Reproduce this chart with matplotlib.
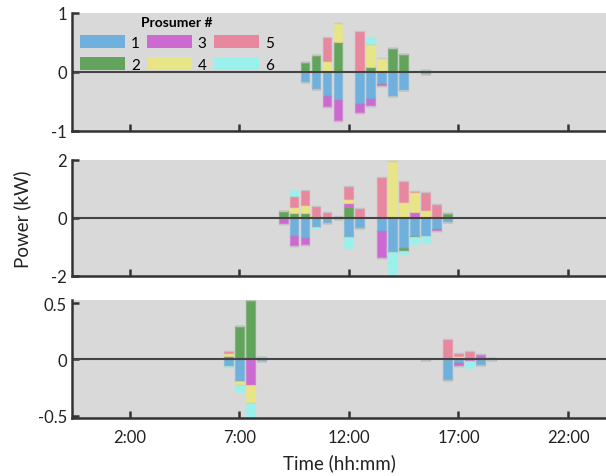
import numpy as np
import matplotlib
matplotlib.use("Agg")
import matplotlib.pyplot as plt
from matplotlib.patches import Patch

plt.rcParams['font.family'] = ['Lato', 'DejaVu Sans']

# ---------------------------------------------------------------------------
# data (kW per half-hour slot, one list per prosumer)
# ---------------------------------------------------------------------------
prosumers = ["1", "2", "3", "4", "5", "6"]
colors = ["#6fb0dc", "#62a45c", "#cc6ad2", "#e7e585", "#e8889e", "#9af1ec"]

times_a = [10.0, 10.5, 11.0, 11.5, 12.5, 13.0, 13.5, 14.0, 14.5, 15.5]
a_p1 = [-0.175, -0.29, -0.41, -0.47, -0.55, -0.45, -0.20, -0.40, -0.30, -0.03]
a_p2 = [0.175, 0.28, 0, 0.50, 0, 0.08, 0, 0.41, 0.30, 0.028]
a_p3 = [0, 0, -0.19, -0.36, -0.14, -0.135, -0.04, 0, 0, 0]
a_p4 = [0, 0, 0.18, 0.33, 0, 0.39, 0.23, 0, 0, 0]
a_p5 = [0, 0, 0.41, 0, 0.695, 0, 0, 0, 0, 0]
a_p6 = [0, 0, 0, 0, 0, 0.12, 0, 0, 0, 0]

times_b = [9.0, 9.5, 10.0, 10.5, 11.0, 11.5, 12.0, 12.5, 13.5, 14.0, 14.5, 15.0, 15.5, 16.0, 16.5]
b_p1 = [0, -0.61, -0.70, -0.32, -0.17, -0.06, -0.67, -0.34, -0.47, -1.17, -1.03, -0.64, -0.62, -0.38, -0.14]
b_p2 = [0.24, 0.17, 0.17, 0.05, 0, 0, 0.36, 0, 0, 0, -0.10, -0.02, 0, 0, 0.17]
b_p3 = [-0.23, -0.36, -0.24, 0, 0, 0, 0.13, 0, -0.92, 0, 0, 0.20, 0, -0.08, 0]
b_p4 = [0, 0.21, 0.28, 0, 0, 0, 0.17, 0, 0, 1.94, 0.54, 0.68, 0.26, 0, 0]
b_p5 = [0, 0.36, 0.52, 0.36, 0.20, 0.07, 0.43, 0.34, 1.41, 0, 0.71, 0.03, 0.64, 0.47, 0]
b_p6 = [0, 0.23, 0, -0.06, 0, 0, -0.38, 0, 0, -0.76, -0.10, -0.23, -0.26, 0, 0]

times_c = [6.5, 7.0, 7.5, 8.0, 15.5, 16.5, 17.0, 17.5, 18.0, 18.5]
c_p1 = [-0.06, -0.195, 0, -0.015, -0.005, -0.18, -0.03, 0, -0.047, -0.005]
c_p2 = [0.033, 0.30, 0.524, 0.02, 0, 0, 0.005, 0.015, 0, 0.015]
c_p3 = [0, 0, -0.228, 0, 0, 0, -0.03, -0.015, 0.05, 0]
c_p4 = [0.027, -0.036, -0.157, 0, 0, 0, 0.025, 0, 0, 0]
c_p5 = [0.015, 0, 0, 0, 0.012, 0.178, 0.03, 0.06, 0, 0]
c_p6 = [-0.012, -0.062, -0.14, 0, 0, 0, 0, -0.06, 0, 0]

xticks = [2, 7, 12, 17, 22]
xticklabels = ["2:00", "7:00", "12:00", "17:00", "22:00"]

panels = [
    (times_a, [a_p1, a_p2, a_p3, a_p4, a_p5, a_p6], (-1, 1), [-1, 0, 1], ["-1", "0", "1"]),
    (times_b, [b_p1, b_p2, b_p3, b_p4, b_p5, b_p6], (-2, 2), [-2, 0, 2], ["-2", "0", "2"]),
    (times_c, [c_p1, c_p2, c_p3, c_p4, c_p5, c_p6], (-0.523, 0.527), [-0.5, 0, 0.5], ["-0.5", "0", "0.5"]),
]

# axes boxes in figure fraction
boxes = [
    [0.1196, 0.7233, 0.8804, 0.2474],
    [0.1196, 0.4193, 0.8804, 0.2442],
    [0.1196, 0.1210, 0.8804, 0.2480],
]

fig = plt.figure(figsize=(6.06, 4.77), dpi=100)
dark = "#333333"

axes = []
for box, (t, series, ylim, yt, ytl) in zip(boxes, panels):
    ax = fig.add_axes(box)
    ax.set_facecolor("#d9d9d9")
    t = np.array(t)
    pos_base = np.zeros(len(t))
    neg_base = np.zeros(len(t))
    for vals, col in zip(series, colors):
        v = np.array(vals, dtype=float)
        pos = np.where(v > 0, v, 0)
        neg = np.where(v < 0, v, 0)
        edge = matplotlib.colors.to_rgba(col, 0.45)
        ax.bar(t, pos, width=0.4, bottom=pos_base, color=col, edgecolor=edge, linewidth=1.0, zorder=2)
        ax.bar(t, neg, width=0.4, bottom=neg_base, color=col, edgecolor=edge, linewidth=1.0, zorder=2)
        pos_base += pos
        neg_base += neg
    ax.axhline(0, color="#444444", linewidth=1.5, zorder=3)
    ax.set_xlim(-0.61, 23.73)
    ax.set_ylim(*ylim)
    ax.set_yticks(yt)
    ax.set_yticklabels(ytl)
    ax.set_xticks(xticks)
    ax.set_xticklabels([])
    for s in ["top", "right"]:
        ax.spines[s].set_visible(False)
    for s in ["left", "bottom"]:
        ax.spines[s].set_linewidth(1.8)
        ax.spines[s].set_color(dark)
        ax.spines[s].set_zorder(4)
    ax.tick_params(direction="in", length=5, width=1.8, color=dark,
                   labelsize=12, labelcolor="#222222", pad=4)
    axes.append(ax)

axes[2].set_xticklabels(xticklabels)
axes[2].tick_params(axis="x", pad=8)
axes[2].set_xlabel("Time (hh:mm)", fontsize=13.5, color="#222222", labelpad=6)
fig.text(0.037, 0.54, "Power (kW)", rotation=90, fontsize=13.5, color="#222222",
         ha="center", va="center")

handles = [Patch(facecolor=c, edgecolor="none") for c in colors]
leg = axes[0].legend(handles, prosumers, ncol=3, loc="upper left",
                     bbox_to_anchor=(0.012, 0.99), frameon=False,
                     title="Prosumer #", fontsize=11,
                     handlelength=2.95, handleheight=1.0, handletextpad=0.35,
                     columnspacing=0.5, labelspacing=0.45, borderpad=0.1,
                     borderaxespad=0.0)
leg.get_title().set_fontweight("bold")
leg.get_title().set_fontsize(10)

fig.savefig("out.png", dpi=100)
